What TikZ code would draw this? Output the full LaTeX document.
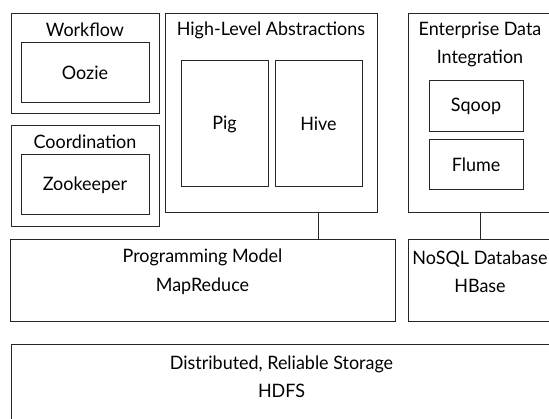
\documentclass[tikz,border=0pt]{standalone}
\usepackage{fontspec}
\setmainfont{Lato}[FakeStretch=0.97]
\begin{document}
\begin{tikzpicture}[x=1pt,y=-1pt,
  box/.style={draw=black!85, line width=0.9pt, rectangle, inner sep=0pt},
  txt/.style={font=\fontsize{18.5}{28.5}\selectfont, inner sep=0pt, align=center, text=black},
  conn/.style={draw=black!85, line width=0.9pt}]
\useasboundingbox (0,0) rectangle (549,419);
\clip (0,0) rectangle (549,419);
% outer boxes
\node[box, minimum width=148pt, minimum height=100pt] (wf) at (85,63) {};
\node[box, minimum width=128pt, minimum height=60pt] (oozie) at (85,72) {};
\node[box, minimum width=148pt, minimum height=101pt] (coord) at (85,175.5) {};
\node[box, minimum width=128pt, minimum height=60pt] (zk) at (85,184) {};
\node[box, minimum width=212pt, minimum height=199pt] (hla) at (271,112.5) {};
\node[box, minimum width=87pt, minimum height=126pt] (pig) at (224.5,123) {};
\node[box, minimum width=87pt, minimum height=126pt] (hive) at (318.5,123) {};
\node[box, minimum width=144pt, minimum height=199pt] (edi) at (480,112.5) {};
\node[box, minimum width=94pt, minimum height=51pt] (sqoop) at (476,105.5) {};
\node[box, minimum width=94pt, minimum height=50pt] (flume) at (476,164) {};
\node[box, minimum width=385pt, minimum height=82pt] (pm) at (202.5,280) {};
\node[box, minimum width=144pt, minimum height=82pt] (nosql) at (480,280) {};
\node[box, minimum width=541pt, minimum height=82pt] (hdfs) at (281.5,385) {};
% texts
\node[txt] (twf) at (85,30) {Workflow};
\node[txt] (toozie) at ([yshift=-1pt]oozie.center) {Oozie};
\node[txt] (tcoord) at (85,142) {Coordination};
\node[txt] (tzk) at ([yshift=-1pt]zk.center) {Zookeeper};
\node[txt] (thla) at (271,30) {High-Level Abstractions};
\node[txt] (tpig) at ([yshift=-1pt]pig.center) {Pig};
\node[txt] (thive) at ([yshift=-1pt]hive.center) {Hive};
\node[txt] (tedi) at (480,44.5) {Enterprise Data\\Integration};
\node[txt] (tsqoop) at ([yshift=-1pt]sqoop.center) {Sqoop};
\node[txt] (tflume) at ([yshift=-1pt]flume.center) {Flume};
\node[txt] (tpm) at (202.5,272) {Programming Model\\MapReduce};
\node[txt] (tnosql) at (480,272) {NoSQL Database\\HBase};
\node[txt] (thdfs) at (281.5,377) {Distributed, Reliable Storage\\HDFS};
% connectors
\draw[conn] (hive |- hla.south) -- (hive |- pm.north);
\draw[conn] (edi.south) -- (nosql.north);
\end{tikzpicture}
\end{document}
